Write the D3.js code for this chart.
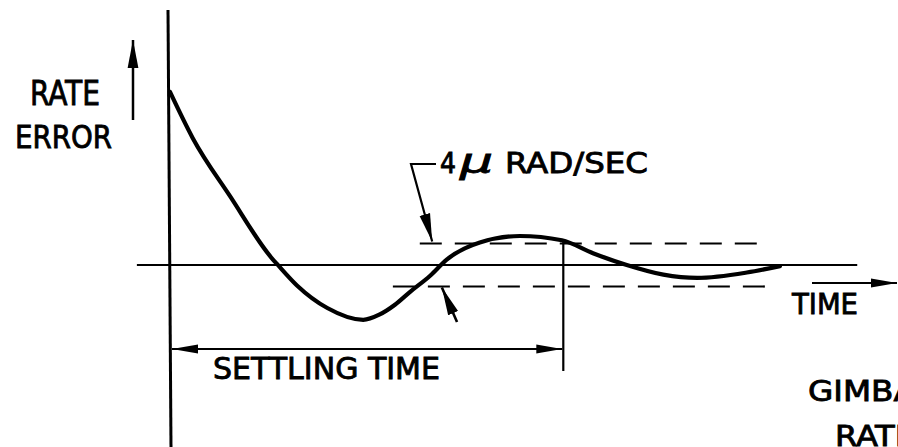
<!DOCTYPE html>
<html>
<head>
<meta charset="utf-8">
<script src="https://cdn.jsdelivr.net/npm/d3@7"></script>
<style>
  html, body { margin: 0; padding: 0; background: #fff; overflow: hidden; }
  svg { display: block; }
  text { font-family: "DejaVu Sans Condensed", "Liberation Sans Narrow", "DejaVu Sans", sans-serif; fill: #000; stroke: #000; stroke-width: 0.8; font-weight: 400; }
</style>
</head>
<body>
<svg id="chart" width="898" height="447"></svg>
<script>
// ---- data (time in arbitrary units 0..100, rate error in µrad/sec) ----
const curveTime  = [0, 3.3, 8.7, 14.8, 15.5, 18.4, 22.8, 28.0, 30.4, 32.6, 34.8, 37.7, 40.1, 44.9, 50.7, 56.8, 61.3, 66.2, 71.5, 76.4, 83.6, 88.4];
const curveError = [16.1, 11.8, 6.4, 0.6, 0.1, -1.9, -4.0, -5.1, -4.6, -3.7, -2.5, -1.0, 0.5, 2.1, 2.7, 2.3, 1.1, 0.0, -0.9, -1.2, -0.7, -0.1];
const bandLevels = [2, -2];              // ±2 µrad/sec  (4 µ RAD/SEC band)
const bandStart  = [36.2, 32.3];
const bandEnd    = [85.8, 87.4];
const settlingTime = 57;
const labels = {
  yAxis: ["RATE", "ERROR"],
  band: "RAD/SEC",
  settling: "SETTLING TIME",
  xAxis: "TIME",
  corner: ["GIMBAL", "RATE"]
};

// ---- scales ----
const x = d3.scaleLinear().domain([0, 100]).range([170, 860]);
const y = d3.scaleLinear().domain([-2, 2]).range([286.5, 243.5]);

const svg = d3.select("#chart");
svg.append("rect").attr("width", 898).attr("height", 447).attr("fill", "#fff");

const defs = svg.append("defs");
function marker(id, w, h) {
  defs.append("marker").attr("id", id)
    .attr("viewBox", "0 0 10 10").attr("refX", 10).attr("refY", 5)
    .attr("markerUnits", "userSpaceOnUse")
    .attr("markerWidth", w).attr("markerHeight", h)
    .attr("orient", "auto-start-reverse")
    .attr("preserveAspectRatio", "none")
    .append("path").attr("d", "M0,0.5 L10,5 L0,9.5 Z").attr("fill", "#000");
}
marker("arr", 26, 10);
marker("arrBig", 28, 12);

// ---- axes ----
svg.append("line").attr("x1", x(0) - 2).attr("y1", 10).attr("x2", x(0) + 1).attr("y2", 447)
  .attr("stroke", "#000").attr("stroke-width", 3);
svg.append("line").attr("x1", x(-4.8)).attr("y1", y(0)).attr("x2", x(99.6)).attr("y2", y(0))
  .attr("stroke", "#000").attr("stroke-width", 2.2);

// ---- tolerance band (dashed) ----
bandLevels.forEach((lv, i) => {
  svg.append("line")
    .attr("x1", x(bandStart[i])).attr("x2", x(bandEnd[i]))
    .attr("y1", y(lv)).attr("y2", y(lv))
    .attr("stroke", "#000").attr("stroke-width", 2.2)
    .attr("stroke-dasharray", "22,13");
});

// ---- response curve ----
const pts = curveTime.map((t, i) => [t, curveError[i]]);
svg.append("path").datum(pts)
  .attr("d", d3.line().x(d => x(d[0])).y(d => y(d[1])).curve(d3.curveMonotoneX))
  .attr("fill", "none").attr("stroke", "#000").attr("stroke-width", 4.2)
  .attr("stroke-linejoin", "round").attr("stroke-linecap", "round");

// ---- settling time marker ----
svg.append("line").attr("x1", x(settlingTime)).attr("x2", x(settlingTime))
  .attr("y1", y(2.4)).attr("y2", 371).attr("stroke", "#000").attr("stroke-width", 2.2);
svg.append("line").attr("x1", x(0) + 2).attr("x2", x(settlingTime) - 1)
  .attr("y1", 349).attr("y2", 349).attr("stroke", "#000").attr("stroke-width", 2.2)
  .attr("marker-start", "url(#arr)").attr("marker-end", "url(#arr)");
svg.append("text").attr("x", 213).attr("y", 379).attr("font-size", 30)
  .attr("textLength", 227).attr("lengthAdjust", "spacingAndGlyphs").text(labels.settling);

// ---- y-axis label + up arrow ----
svg.append("line").attr("x1", 133).attr("x2", 133).attr("y1", 120).attr("y2", 40)
  .attr("stroke", "#000").attr("stroke-width", 2.5).attr("marker-end", "url(#arrBig)");
svg.append("text").attr("x", 30).attr("y", 105).attr("font-size", 34)
  .attr("textLength", 70).attr("lengthAdjust", "spacingAndGlyphs").text(labels.yAxis[0]);
svg.append("text").attr("x", 15).attr("y", 148).attr("font-size", 32)
  .attr("textLength", 97).attr("lengthAdjust", "spacingAndGlyphs").text(labels.yAxis[1]);

// ---- band annotation ----
svg.append("path").attr("d", `M436,164 L411,164 L${x(38)},${y(2) - 2}`)
  .attr("fill", "none").attr("stroke", "#000").attr("stroke-width", 2.2)
  .attr("marker-end", "url(#arrBig)");
svg.append("text").attr("x", 440).attr("y", 173).attr("font-size", 28)
  .attr("stroke-width", 0.3).text("4");
svg.append("text").attr("x", 460).attr("y", 173).attr("font-size", 34)
  .attr("font-style", "italic").attr("font-family", "DejaVu Serif, serif").attr("stroke-width", 0.2)
  .attr("textLength", 33).attr("lengthAdjust", "spacingAndGlyphs").text("μ");
svg.append("text").attr("x", 505).attr("y", 173).attr("font-size", 29)
  .attr("textLength", 143).attr("lengthAdjust", "spacingAndGlyphs").text(labels.band);
svg.append("line").attr("x1", x(41.6)).attr("y1", 322).attr("x2", x(39.4)).attr("y2", y(-2) + 1)
  .attr("stroke", "#000").attr("stroke-width", 2.6).attr("marker-end", "url(#arrBig)");

// ---- time axis arrow & label ----
svg.append("line").attr("x1", 812).attr("x2", 897).attr("y1", 283).attr("y2", 283)
  .attr("stroke", "#000").attr("stroke-width", 2.2).attr("marker-end", "url(#arr)");
svg.append("text").attr("x", 792).attr("y", 314).attr("font-size", 29)
  .attr("textLength", 66).attr("lengthAdjust", "spacingAndGlyphs").text(labels.xAxis);

// ---- corner label (cut by the page edge, as in the source figure) ----
svg.append("text").attr("x", 808).attr("y", 401).attr("font-size", 29)
  .attr("textLength", 126).attr("lengthAdjust", "spacingAndGlyphs").text(labels.corner[0]);
svg.append("text").attr("x", 835).attr("y", 446).attr("font-size", 29)
  .attr("textLength", 80).attr("lengthAdjust", "spacingAndGlyphs").text(labels.corner[1]);
</script>
</body>
</html>
